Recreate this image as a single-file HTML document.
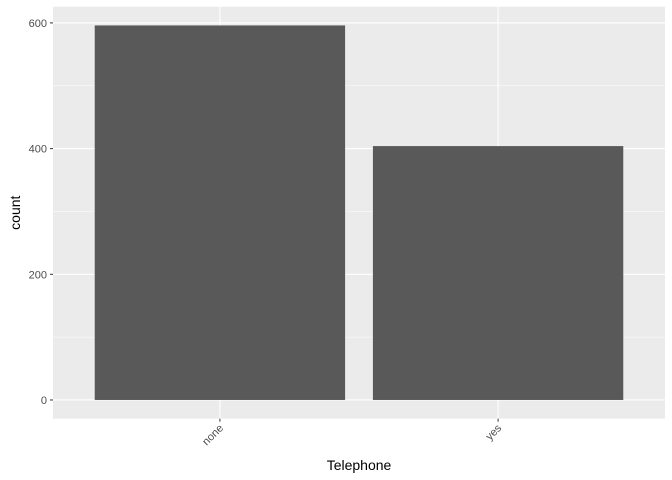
<!DOCTYPE html>
<html><head><meta charset="utf-8"><style>
body{margin:0;background:#fff;}
svg{display:block;font-family:"Liberation Sans",sans-serif;}
</style></head><body>
<svg width="672" height="480">
<g id="g"></g>
</svg>
<script>
const categories = ["none", "yes"];
const counts = [596, 404];
const yTicks = [0, 200, 400, 600];

const NS = "http://www.w3.org/2000/svg";
const g = document.getElementById('g');
const L = 53, R = 665, T = 6.7, B = 418.7;
const yMax = Math.max(...counts);
const yLo = -0.05 * yMax, yHi = yMax * 1.05;
const y = v => B - (v - yLo) / (yHi - yLo) * (B - T);
const step = (R - L) / (categories.length + 0.2);
const x = i => L + step * (0.6 + i);

function mk(tag, attrs, text) {
  const e = document.createElementNS(NS, tag);
  for (const k in attrs) e.setAttribute(k, attrs[k]);
  if (text !== undefined) e.textContent = text;
  g.appendChild(e);
  return e;
}

let e = mk('rect', {x: L, y: T, width: R - L, height: B - T, fill: '#ebebeb'});



for (let i = 0; i < yTicks.length - 1; i++) {
  const m = (yTicks[i] + yTicks[i + 1]) / 2;
  mk('line', {x1: L, x2: R, y1: y(m), y2: y(m), stroke: '#fff', 'stroke-width': 0.5});
}
yTicks.forEach(t => {
  const l = mk('line', {x1: L, x2: R, y1: y(t), y2: y(t), stroke: '#fff', 'stroke-width': 1.1});
  
  
  mk('line', {x1: L - 3, x2: L, y1: y(t), y2: y(t), stroke: '#333', 'stroke-width': 1});
  const tx = mk('text', {x: L - 6, y: y(t) + 4, 'text-anchor': 'end', 'font-size': 11, fill: '#4d4d4d'}, t);
  
  
});
categories.forEach((c, i) => {
  mk('line', {x1: x(i), x2: x(i), y1: T, y2: B, stroke: '#fff', 'stroke-width': 1.1});
});
categories.forEach((c, i) => {
  const w = step * 0.9;
  const b = mk('rect', {x: x(i) - w / 2, y: y(counts[i]), width: w, height: y(0) - y(counts[i]), fill: '#595959'});
  
  
  mk('line', {x1: x(i), x2: x(i), y1: B, y2: B + 3, stroke: '#333', 'stroke-width': 1});
  const tx = mk('text', {x: x(i) + 4, y: B + 10, 'text-anchor': 'end', 'font-size': 11, fill: '#4d4d4d',
    transform: `rotate(-45 ${x(i) + 4} ${B + 10})`}, c);
  
  
});
let t1 = mk('text', {x: (L + R) / 2, y: 470, 'text-anchor': 'middle', 'font-size': 14, fill: '#000'}, 'Telephone');


let t2 = mk('text', {x: 20, y: (T + B) / 2, 'text-anchor': 'middle', 'font-size': 14, fill: '#000',
  transform: `rotate(-90 20 ${(T + B) / 2})`}, 'count');


</script>
</body></html>
